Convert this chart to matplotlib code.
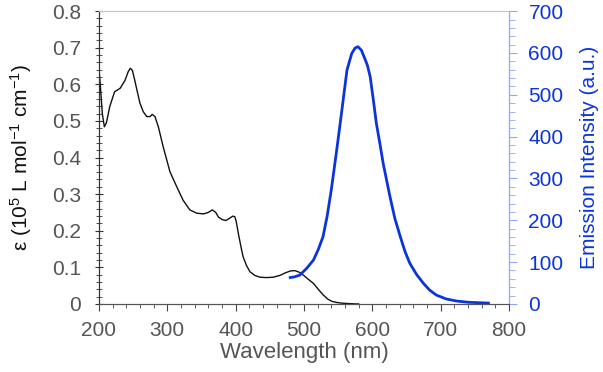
import numpy as np
import matplotlib
matplotlib.use("Agg")
import matplotlib.pyplot as plt
from matplotlib.ticker import MultipleLocator

plt.rcParams['font.family'] = ['Liberation Sans', 'DejaVu Sans']
plt.rcParams['mathtext.fontset'] = 'custom'
plt.rcParams['mathtext.rm'] = 'Liberation Sans'
plt.rcParams['mathtext.it'] = 'Liberation Sans:italic'

# absorption spectrum
abs_nm = [200, 202, 205, 208, 211, 216, 223, 231, 238, 243, 246, 249, 252, 255, 260,
          265, 270, 275, 278, 282, 287, 294, 304, 314, 323, 333, 343, 353, 360, 366,
          371, 375, 381, 386, 392, 396, 399, 401, 404, 408, 411, 416, 421, 428, 436,
          445, 455, 465, 473, 480, 487, 494, 499, 506, 514, 521, 528, 535, 541, 548,
          556, 565, 575, 580]
abs_eps = [0.645, 0.60, 0.52, 0.484, 0.495, 0.54, 0.58, 0.589, 0.61, 0.635, 0.644, 0.638,
           0.615, 0.59, 0.549, 0.525, 0.512, 0.512, 0.518, 0.512, 0.484, 0.43, 0.361,
           0.32, 0.284, 0.257, 0.248, 0.246, 0.250, 0.257, 0.250, 0.237, 0.230, 0.228,
           0.235, 0.240, 0.238, 0.225, 0.193, 0.155, 0.129, 0.105, 0.088, 0.078, 0.073,
           0.072, 0.073, 0.078, 0.085, 0.090, 0.091, 0.086, 0.079, 0.068, 0.056, 0.040,
           0.025, 0.013, 0.007, 0.004, 0.002, 0.001, 0.0, 0.0]

# emission spectrum
em_nm = [480, 487, 494, 504, 514, 521, 528, 534, 540, 548, 555, 563, 570, 575, 579,
         584, 589, 593, 597, 601, 606, 611, 616, 626, 633, 641, 648, 655, 665, 675,
         684, 694, 708, 723, 740, 755, 770]
em_int = [63, 65, 69, 85, 105, 130, 161, 210, 272, 368, 456, 559, 599, 612, 615,
          607, 587, 570, 543, 495, 432, 385, 336, 256, 205, 161, 125, 97, 70, 49,
          33, 21, 12, 7, 4, 3, 2]

fig = plt.figure(figsize=(6.03, 3.72), dpi=100)
ax = fig.add_axes([0.164, 0.183, 0.680, 0.787])
ax2 = ax.twinx()

ax.plot(abs_nm, abs_eps, color='#111111', lw=1.0)
ax2.plot(em_nm, em_int, color='#0b35d9', lw=2.0)

gray = '#555555'
blue = '#0b35d9'
fs = 15

ax.set_xlim(200, 800)
ax.set_ylim(0, 0.8)
ax2.set_ylim(0, 700)

ax.xaxis.set_major_locator(MultipleLocator(100))
ax.xaxis.set_minor_locator(MultipleLocator(20))
ax.yaxis.set_minor_locator(MultipleLocator(0.02))
ax2.yaxis.set_major_locator(MultipleLocator(100))
ax2.yaxis.set_minor_locator(MultipleLocator(20))

ax.set_yticks(np.arange(0, 0.81, 0.1))
ax.set_yticklabels(['0', '0.1', '0.2', '0.3', '0.4', '0.5', '0.6', '0.7', '0.8'])

ax.tick_params(axis='x', which='major', direction='out', length=5, color='#444444',
               labelsize=fs, labelcolor=gray, pad=7)
ax.tick_params(axis='x', which='minor', direction='out', length=3, color='#444444')
ax.tick_params(axis='y', which='major', direction='inout', length=6, color='#333333',
               labelsize=fs, labelcolor=gray, pad=10)
ax.tick_params(axis='y', which='minor', direction='inout', length=4, color='#333333')
ax2.tick_params(axis='y', which='major', direction='out', length=6, color='#8fa6f5',
                labelsize=fs, labelcolor=blue, pad=8)
ax2.tick_params(axis='y', which='minor', direction='out', length=4, color='#8fa6f5')

for a in (ax, ax2):
    a.spines['top'].set_color('#c8c8c8')
    a.spines['left'].set_color('#333333')
    a.spines['bottom'].set_color('#555555')
    a.spines['right'].set_color('#8fa6f5')

ax.set_xlabel('Wavelength (nm)', fontsize=16, color=gray, labelpad=2)
ax.set_ylabel(r'ε (10$^{5}$ L mol$^{-1}$ cm$^{-1}$)', fontsize=fs, color='#111111', labelpad=13)
ax2.set_ylabel('Emission Intensity (a.u.)', fontsize=fs, color=blue, labelpad=12)

fig.savefig('out.png', dpi=100)
